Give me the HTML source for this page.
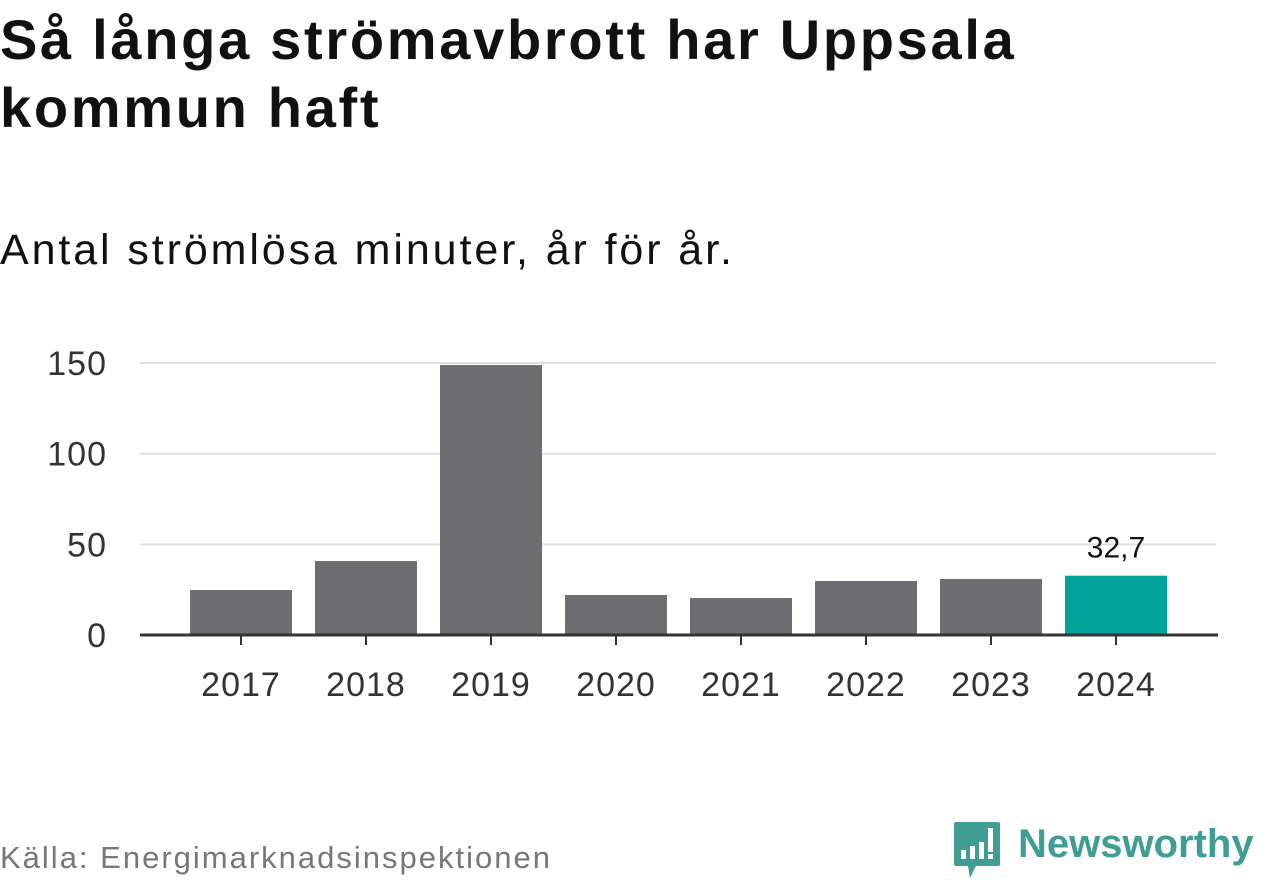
<!DOCTYPE html>
<html><head><meta charset="utf-8"><style>
body{margin:0;width:1262px;height:879px;background:#fff;font-family:"Liberation Sans","DejaVu Sans",sans-serif;overflow:hidden;position:relative}
h1{position:absolute;left:0;top:6px;margin:0;font-size:56px;line-height:68px;font-weight:bold;color:#111;width:1060px;letter-spacing:2.7px}
.sub{position:absolute;left:0;top:226px;font-size:43px;color:#111;letter-spacing:2.9px}
.src{position:absolute;left:0;top:840px;font-size:31px;color:#777;letter-spacing:2px}
</style></head><body>
<h1>Så långa strömavbrott har Uppsala kommun haft</h1>
<div class="sub">Antal strömlösa minuter, år för år.</div>
<svg id="c" width="1262" height="879" style="position:absolute;left:0;top:0"></svg>
<div class="src">Källa: Energimarknadsinspektionen</div>
<div style="position:absolute;left:952px;top:820px;width:310px;height:60px">
<svg width="50" height="60" style="position:absolute;left:0;top:0"><path d="M4 2h42a2 2 0 0 1 2 2v40a2 2 0 0 1-2 2H24l-6 12l-2-12H4a2 2 0 0 1-2-2V4a2 2 0 0 1 2-2z" fill="#3f9d93"/><rect x="9" y="30" width="5" height="9" fill="#fff"/><rect x="18" y="26" width="5" height="13" fill="#fff"/><rect x="27" y="22" width="5" height="17" fill="#fff"/><rect x="36" y="8" width="5" height="24" fill="#fff"/><rect x="36" y="34" width="5" height="5" fill="#fff"/></svg>
<div style="position:absolute;left:66px;top:2px;font-size:40px;font-weight:bold;color:#3f9d93">Newsworthy</div></div>
<script>
const years=["2017","2018","2019","2020","2021","2022","2023","2024"];
const values=[24.8,40.8,148.9,22.1,20.4,29.8,30.9,32.7];
const yTicks=[0,50,100,150];
const labelText="32,7";
const svg=document.getElementById('c');const NS='http://www.w3.org/2000/svg';
const y=v=>635-v*1.813;const x=i=>241+i*125;
function mk(t,a){const e=document.createElementNS(NS,t);for(const k in a)e.setAttribute(k,a[k]);svg.appendChild(e);return e;}
yTicks.forEach(t=>{
 if(t>0){const l=mk('line',{x1:140,x2:1216,y1:y(t),y2:y(t),stroke:'#ddd','stroke-width':2});
 
 }
 const tx=mk('text',{x:107,y:y(t)+12,'text-anchor':'end','font-size':34,fill:'#333','letter-spacing':1});tx.textContent=t;
 
 
});
values.forEach((v,i)=>{
 const r=mk('rect',{x:x(i)-51,y:y(v),width:102,height:635-y(v),fill:i==values.length-1?'#00a39a':'#6e6d72'});
 
 
 const t=mk('text',{x:x(i),y:696,'text-anchor':'middle','font-size':34,fill:'#333','letter-spacing':1});t.textContent=years[i];
 
 
 mk('line',{x1:x(i),x2:x(i),y1:635,y2:645,stroke:'#333','stroke-width':2});
});
const last=values.length-1;
const vl=mk('text',{x:x(last),y:y(values[last])-18,'text-anchor':'middle','font-size':30,fill:'#111'});vl.textContent=labelText;


const ax=mk('line',{x1:140,x2:1218,y1:635,y2:635,stroke:'#333','stroke-width':3});


</script>
</body></html>
